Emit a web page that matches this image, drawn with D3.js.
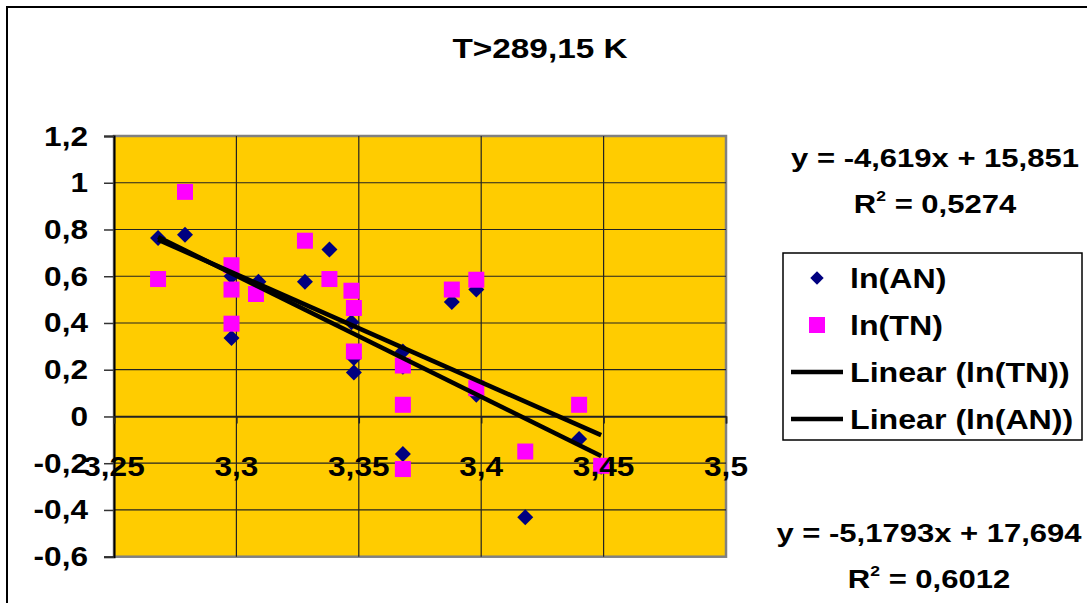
<!DOCTYPE html>
<html><head><meta charset="utf-8">
<script src="https://cdn.jsdelivr.net/npm/d3@7"></script>
<style>body{margin:0;background:#fff}svg{display:block}text{font-family:"Liberation Sans",Arial,sans-serif;font-weight:bold;fill:#000}</style>
</head><body><svg id="c" width="1087" height="603"></svg>
<script>
const title = "T>289,15 K";
const anX = [3.268,3.279,3.298,3.298,3.309,3.328,3.338,3.347,3.348,3.348,3.368,3.368,3.368,3.388,3.398,3.398,3.418,3.44,3.449];
const anY = [0.764,0.778,0.600,0.336,0.576,0.576,0.714,0.403,0.250,0.188,0.278,0.213,-0.161,0.490,0.543,0.093,-0.431,-0.096,-0.215];
const tnX = [3.268,3.279,3.298,3.298,3.298,3.308,3.328,3.338,3.347,3.348,3.348,3.368,3.368,3.368,3.388,3.398,3.398,3.418,3.44,3.449];
const tnY = [0.588,0.961,0.647,0.543,0.397,0.524,0.752,0.588,0.538,0.464,0.278,0.218,0.05,-0.225,0.543,0.585,0.121,-0.15,0.05,-0.211];
const xTicks = [3.25,3.3,3.35,3.4,3.45,3.5];
const yTicks = [-0.6,-0.4,-0.2,0,0.2,0.4,0.6,0.8,1,1.2];
const trendTN = {slope:-4.619, intercept:15.851, r2:"0,5274"};
const trendAN = {slope:-5.1793, intercept:17.694, r2:"0,6012"};
const legendItems = ["ln(AN)","ln(TN)","Linear (ln(TN))","Linear (ln(AN))"];

const SX = 1.17;
const fmt = v => String(+v.toFixed(2)).replace(".", ",");
const svg = d3.select("#c");
const L=114, R=726, T=136, B=556.7;
const x = d3.scaleLinear().domain([3.25,3.5]).range([L,R]);
const y = d3.scaleLinear().domain([-0.6,1.2]).range([B,T]);

function txt(g, s, px, py, size, anchor){
  const t = g.append("text").attr("transform",`translate(${px},${py}) scale(${SX},1)`)
    .attr("font-size",size).attr("text-anchor",anchor||"middle");
  t.text(s);
  return t;
}

// chart area border
svg.append("rect").attr("x",7).attr("y",7).attr("width",1200).attr("height",700)
  .attr("fill","#fff").attr("stroke","#000").attr("stroke-width",2);

txt(svg, title, 540, 58, 28.5);

// plot area
svg.append("rect").attr("x",L).attr("y",T).attr("width",R-L).attr("height",B-T)
  .attr("fill","#FFCC00").attr("stroke","#808080").attr("stroke-width",2.5);

// gridlines
svg.append("g").selectAll("line").data(yTicks.filter(v=>v>-0.6&&v<1.2)).join("line")
  .attr("x1",L).attr("x2",R).attr("y1",d=>y(d)).attr("y2",d=>y(d)).attr("stroke","#222").attr("stroke-width",1.2);
svg.append("g").selectAll("line").data(xTicks.filter(v=>v>3.25&&v<3.5)).join("line")
  .attr("y1",T).attr("y2",B).attr("x1",d=>x(d)).attr("x2",d=>x(d)).attr("stroke","#222").attr("stroke-width",1.2);

// y axis
const ya = svg.append("g").attr("transform",`translate(${L},0)`)
  .call(d3.axisLeft(y).tickValues(yTicks).tickSize(10).tickFormat(fmt));
ya.select(".domain").attr("stroke","#000").attr("stroke-width",2);
ya.selectAll(".tick line").attr("stroke","#333").attr("stroke-width",1.5);
ya.selectAll(".tick text").remove();
yTicks.forEach(v=>{ txt(svg, fmt(v), 88, y(v)+9.5, 27, "end"); });

// x axis crossing at y=0
const xa = svg.append("g").attr("transform",`translate(0,${y(0)})`)
  .call(d3.axisBottom(x).tickValues(xTicks).tickSize(7).tickFormat(fmt));
xa.select(".domain").attr("stroke","#222").attr("stroke-width",1.5);
xa.selectAll(".tick line").attr("stroke","#222").attr("stroke-width",1.5);
xa.selectAll(".tick text").remove();

// series
const an = anX.map((v,i)=>({x:v,y:anY[i]}));
const tn = tnX.map((v,i)=>({x:v,y:tnY[i]}));
const diamond = d3.symbol().type(d3.symbolSquare).size(128);
svg.append("g").selectAll("path").data(an).join("path")
  .attr("d",diamond).attr("transform",d=>`translate(${x(d.x)},${y(d.y)}) rotate(45)`).attr("fill","#000080");
svg.append("g").selectAll("rect").data(tn).join("rect")
  .attr("x",d=>x(d.x)-8).attr("y",d=>y(d.y)-8).attr("width",16).attr("height",16).attr("fill","#FF00FF");

// trend lines
function trend(data, tr){
  const [x0,x1] = d3.extent(data,d=>d.x);
  const pts = [x0,x1].map(v=>({x:v,y:tr.slope*v+tr.intercept}));
  svg.append("path").attr("d",d3.line().x(d=>x(d.x)).y(d=>y(d.y))(pts))
    .attr("stroke","#000").attr("stroke-width",4.5).attr("fill","none");
}
trend(tn, trendTN);
trend(an, trendAN);

// x tick labels on top
xTicks.forEach(v=>{ txt(svg, fmt(v), x(v), 476, 27, "middle"); });

// equations
function eq(tr, cx, by){
  const s = `y = ${String(tr.slope).replace(".",",")}x + ${String(tr.intercept).replace(".",",")}`;
  txt(svg, s, cx, by, 26.5, "middle");
  const t = txt(svg, "", cx, by+46, 26.5, "middle");
  t.append("tspan").text("R");
  t.append("tspan").text("2").attr("font-size",15).attr("dy",-12);
  t.append("tspan").text(" = "+tr.r2).attr("dy",12);
}
eq(trendTN, 935, 167);
eq(trendAN, 929, 542);

// legend
const lg = svg.append("g");
lg.append("rect").attr("x",783).attr("y",253).attr("width",299).attr("height",187)
  .attr("fill","#fff").attr("stroke","#000").attr("stroke-width",1.5);
const ly = [278,325,372,419];
lg.append("path").attr("d",d3.symbol().type(d3.symbolSquare).size(90))
  .attr("transform",`translate(817,${ly[0]}) rotate(45)`).attr("fill","#000080");
lg.append("rect").attr("x",809).attr("y",ly[1]-8).attr("width",16).attr("height",16).attr("fill","#FF00FF");
[2,3].forEach(i=>lg.append("line").attr("x1",791).attr("x2",843).attr("y1",ly[i]).attr("y2",ly[i])
  .attr("stroke","#000").attr("stroke-width",4.5));
legendItems.forEach((s,i)=>txt(lg, s, 850, ly[i]+10, 27.5, "start"));
</script></body></html>
